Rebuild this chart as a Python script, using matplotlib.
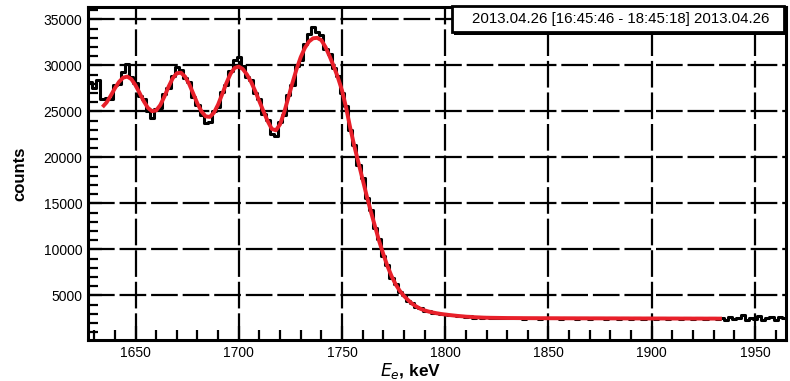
import numpy as np
import matplotlib
matplotlib.use('Agg')
import matplotlib.pyplot as plt
from matplotlib.ticker import MultipleLocator
from matplotlib.patches import Rectangle

# measured spectrum, 2 keV bins (bin centres 1628 ... 1964 keV)
E_LO, E_HI, E_STEP = 1628, 1964, 2
counts = [
    28200, 27600, 28400, 26300, 26500, 26400, 27900, 28000, 29300, 30200,
    28700, 28100, 26700, 26400, 25000, 24300, 25300, 25400, 26900, 27500,
    28900, 29800, 29500, 28600, 28200, 26600, 25700, 24600, 23700, 23900,
    25100, 25500, 27100, 27900, 29400, 30600, 30900, 29900, 28700, 28400,
    27000, 26300, 24700, 24100, 22500, 22300, 23800, 24600, 26800, 27900,
    29900, 30600, 32300, 33400, 34200, 33600, 33300, 31800, 31200, 29700,
    28900, 27000, 25600, 23000, 21400, 19200, 17800, 15600, 14300, 12300,
    11100, 9300, 8300, 6900, 6300, 5400, 5050, 4350, 4200, 3700,
    3600, 3300, 3300, 3100, 3100, 2950, 3000, 2850, 2900, 2750,
    2800, 2650, 2750, 2600, 2650, 2550, 2650, 2500, 2600, 2550,
    2500, 2600, 2500, 2550, 2600, 2450, 2550, 2500, 2600, 2450,
    2550, 2500, 2600, 2500, 2450, 2550, 2500, 2600, 2450, 2550,
    2500, 2450, 2550, 2500, 2600, 2450, 2500, 2550, 2450, 2500,
    2550, 2450, 2500, 2600, 2450, 2500, 2550, 2450, 2500, 2550,
    2400, 2500, 2550, 2450, 2500, 2550, 2450, 2500, 2600, 2450,
    2500, 2550, 2400, 2600, 2350, 2700, 2450, 2550, 2900, 2300,
    2600, 2450, 2800, 2350, 2550, 2700, 2300, 2650, 2500,
]

# fitted edge function
fit_e = list(range(1634, 1801, 2)) + [1805, 1810, 1815, 1820, 1830, 1840,
                                       1860, 1880, 1900, 1920, 1934]
fit_counts = [
    25480, 25980, 26710, 27510, 28210, 28670, 28790, 28510, 27850, 26990,
    26110, 25390, 25030, 25110, 25690, 26620, 27680, 28600, 29150, 29210,
    28780, 27980, 26920, 25850, 24980, 24460, 24410, 24870, 25750, 26890,
    28080, 29090, 29730, 29880, 29600, 29000, 28200, 27200, 26100, 25000,
    23950, 23100, 22950, 23600, 24900, 26500, 28100, 29600, 30900, 31900,
    32600, 32950, 33000, 32750, 32000, 31000, 29900, 28700, 27300, 25400,
    23200, 21200, 19400, 17600, 15800, 14100, 12500, 10900, 9500, 8200,
    7100, 6200, 5500, 4950, 4500, 4100, 3800, 3550, 3380, 3250,
    3150, 3060, 2990, 2930,
    2800, 2700, 2630, 2580, 2550, 2535, 2520, 2510, 2500, 2490, 2485,
]

run_label = '2013.04.26 [16:45:46 - 18:45:18] 2013.04.26'

plt.rcParams['font.family'] = ['Liberation Sans', 'DejaVu Sans']

energies = np.arange(E_LO, E_HI + 1, E_STEP)

fig = plt.figure(figsize=(7.9, 3.81), dpi=100)
ax = fig.add_axes([0.1114, 0.1076, 0.8835, 0.874])

ax.step(energies, counts, where='mid', color='black', lw=2.2, zorder=3)
ax.plot(fit_e, fit_counts, color='#e8202a', lw=2.8, zorder=4,
        solid_capstyle='butt')

ax.set_xlim(1627, 1965)
ax.set_ylim(160, 36350)

ax.xaxis.set_major_locator(MultipleLocator(50))
ax.xaxis.set_minor_locator(MultipleLocator(10))
ax.yaxis.set_minor_locator(MultipleLocator(1000))
ax.set_yticks([5000, 10000, 15000, 20000, 25000, 30000, 35000])

ax.grid(True, which='major', color='black', lw=1.6,
        linestyle=(0, (12, 2.2)), zorder=1)
ax.tick_params(which='both', direction='in', top=False, right=False,
               labelsize=10, width=1.6, pad=4)
ax.tick_params(which='major', length=10)
ax.tick_params(which='minor', length=7)
for sp in ax.spines.values():
    sp.set_linewidth(2.2)

ax.set_ylabel('counts', fontsize=12, fontweight='bold')
ax.yaxis.set_label_coords(-0.087, 0.5)
fig.text(0.52, 0.027, r'$E_e$, keV', fontsize=12.5, fontweight='bold',
         ha='center', va='center')

# run period box
fig.patches.append(Rectangle((0.575, 0.908), 0.423, 0.072,
                             transform=fig.transFigure, facecolor='black',
                             edgecolor='none', zorder=5))
fig.patches.append(Rectangle((0.572, 0.915), 0.421, 0.07,
                             transform=fig.transFigure, facecolor='white',
                             edgecolor='black', lw=2.0, zorder=6))
fig.text(0.786, 0.950, run_label, fontsize=10.8, ha='center', va='center',
         zorder=7)

fig.savefig('out.png', dpi=100)
